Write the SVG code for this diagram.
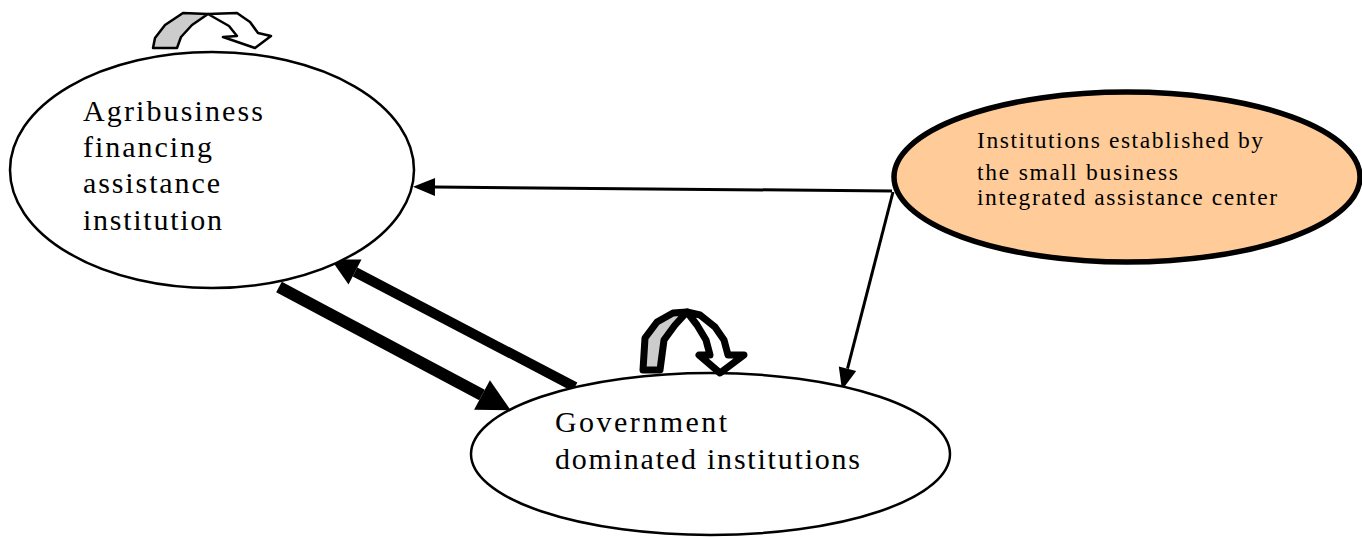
<svg xmlns="http://www.w3.org/2000/svg" width="1362" height="537" viewBox="0 0 1362 537">
<style>
.node{fill:#fff;stroke:#000;stroke-width:2.5}
.org{fill:#FFCC99;stroke:#000;stroke-width:5.5}
.lbl{font-family:"Liberation Serif","Times New Roman",serif;fill:#000}
.big{font-size:30px}
.sm{font-size:23.5px}
.thin{stroke:#000;stroke-width:3;fill:none}
.thick{stroke:#000;fill:none}
.loopg{fill:#CCCCCC;stroke:#000;stroke-linejoin:round}
.loopw{fill:#fff;stroke:#000;stroke-linejoin:round}
</style>
<defs>
<marker id="ah" markerUnits="userSpaceOnUse" markerWidth="24" markerHeight="20" refX="0" refY="10" orient="auto" overflow="visible">
<path d="M0,1 L22,10 L0,19 Z" fill="#000"/>
</marker>
<marker id="ahb" markerUnits="strokeWidth" markerWidth="3" markerHeight="3" refX="0" refY="1.4" orient="auto" overflow="visible">
<path d="M0,0 L2.7,1.4 L0,2.8 Z" fill="#000"/>
</marker>
</defs>
<g id="connectors">
<line class="thin" x1="892" y1="191" x2="435" y2="187" marker-end="url(#ah)"/>
<line class="thin" x1="893" y1="192" x2="847.5" y2="368.7" marker-end="url(#ah)"/>
<line class="thick" stroke-width="12" x1="279" y1="287" x2="482" y2="395" marker-end="url(#ahb)"/>
<line class="thick" stroke-width="10" x1="575" y1="387" x2="355" y2="272" marker-end="url(#ahb)"/>
</g>
<g id="agribusiness">
<ellipse class="node" cx="212" cy="170" rx="202" ry="118"/>
<text class="lbl big" x="83" y="121" textLength="180" lengthAdjust="spacing">Agribusiness</text>
<text class="lbl big" x="83" y="157" textLength="129" lengthAdjust="spacing">financing</text>
<text class="lbl big" x="83" y="193" textLength="137" lengthAdjust="spacing">assistance</text>
<text class="lbl big" x="83" y="230" textLength="139" lengthAdjust="spacing">institution</text>
</g>
<g id="agribusiness-loop">
<path class="loopg" stroke-width="2.5" d="M153,48 L155,38 L165,25 L183,13 L208,14 L192,25 L181,37 L177,48 Z"/>
<path class="loopw" stroke-width="2.5" d="M208,14 L237,13 L250,22 L258,33 L271,36 L255,48 L223,37 L237,36 L229,26 Z"/>
</g>
<g id="government">
<ellipse class="node" cx="710.5" cy="454" rx="239.5" ry="81"/>
<text class="lbl big" x="555" y="432" textLength="172" lengthAdjust="spacing">Government</text>
<text class="lbl big" x="555" y="469" textLength="305" lengthAdjust="spacing">dominated institutions</text>
</g>
<g id="government-loop">
<path class="loopg" stroke-width="7" d="M643,370 L645,338 L657,322 L673,313 L687,312 L675,325 L664,340 L660,370 Z"/>
<path class="loopw" stroke-width="7" d="M687,312 L700,315 L715,327 L724,340 L728,355 L744,355 L720,373 L699,355 L710,355 L706,340 L697,325 Z"/>
</g>
<g id="small-business-center">
<ellipse class="org" cx="1127" cy="177" rx="233" ry="85"/>
<text class="lbl sm" x="977" y="148" textLength="286" lengthAdjust="spacing">Institutions established by</text>
<text class="lbl sm" x="977" y="180" textLength="201" lengthAdjust="spacing">the small business</text>
<text class="lbl sm" x="977" y="205" textLength="300" lengthAdjust="spacing">integrated assistance center</text>
</g>
</svg>
